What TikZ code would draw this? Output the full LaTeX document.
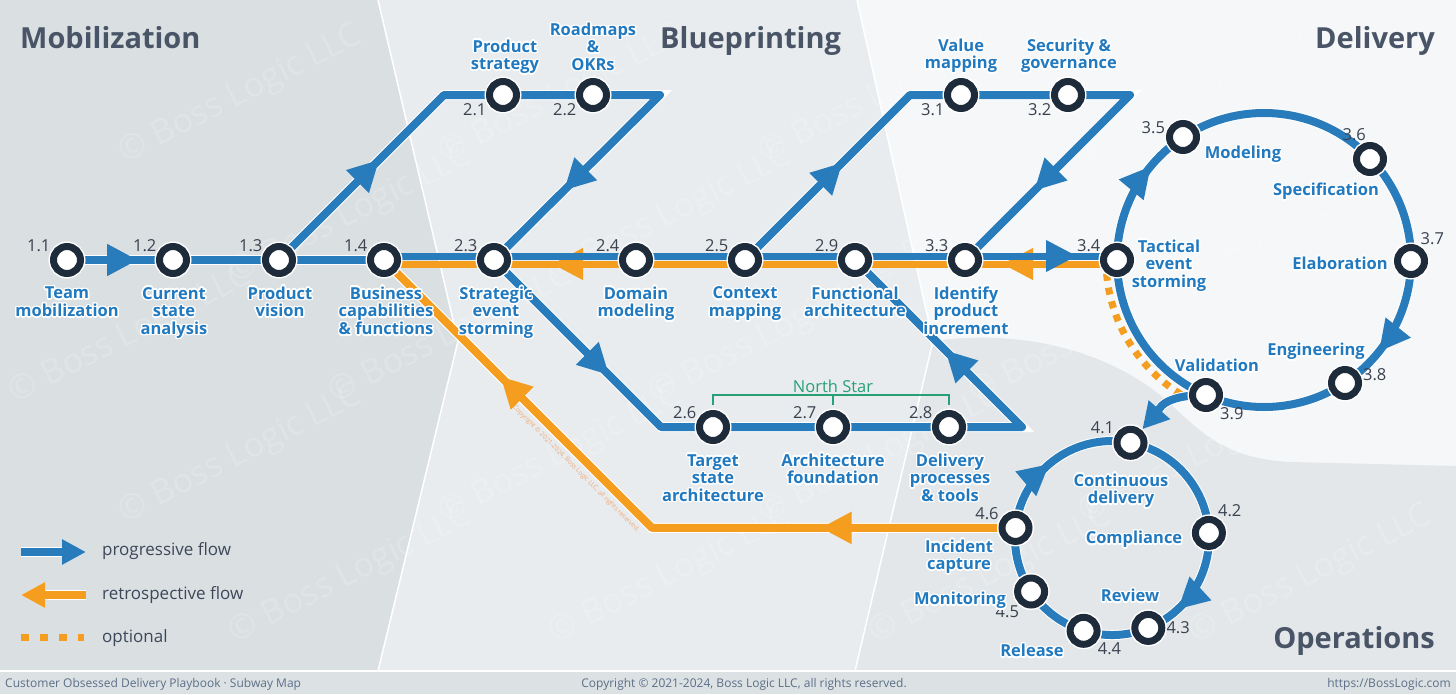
\documentclass[tikz,border=0pt]{standalone}
\usepackage{fontspec}
\setmainfont{Open Sans}
\usepackage[copies]{contour}
\contourlength{1.4pt}
\usetikzlibrary{arrows.meta, decorations.markings}

\definecolor{flowblue}{RGB}{41,124,188}
\definecolor{flowamber}{RGB}{244,157,30}
\definecolor{stnavy}{RGB}{30,43,59}
\definecolor{namblue}{RGB}{33,121,191}
\definecolor{numgray}{RGB}{58,66,80}
\definecolor{titlegray}{RGB}{73,85,103}
\definecolor{legendgray}{RGB}{60,72,90}
\definecolor{mobbg}{RGB}{218,223,226}
\definecolor{bluebg}{RGB}{232,236,238}
\definecolor{delbg}{RGB}{245,247,249}
\definecolor{opsbg}{RGB}{227,231,233}
\definecolor{footbg}{RGB}{220,225,228}
\definecolor{foottext}{RGB}{92,111,135}
\definecolor{stargreen}{RGB}{40,160,118}
\definecolor{copyamber}{RGB}{240,168,118}

% white halo round the station names
\newcommand\halo[1]{\contour{white}{\begin{tabular}{@{}c@{}}#1\end{tabular}}}

\tikzset{
  progline/.style={draw=flowblue, line width=8pt, line cap=round, line join=round,
    preaction={draw=white, line width=10pt}},
  retroline/.style={draw=flowamber, line width=8pt, line cap=round, line join=round,
    preaction={draw=white, line width=10pt}},
  progtrack/.style={draw=flowblue, line width=7pt},
  retrotrack/.style={draw=flowamber, line width=7pt},
  optline/.style={draw=flowamber, line width=7pt, dash pattern=on 7pt off 7pt},
  flowarrow/.style={postaction={decorate, decoration={markings,
      mark=at position #1 with {\arrow{Triangle[length=31pt, width=30pt]}}}}},
  station/.style={circle, draw=stnavy, fill=white, line width=7pt, minimum size=27pt,
    inner sep=0pt, label distance=1pt, preaction={draw=white, line width=10pt}},
  num/.style={font=\fontsize{16.5}{18}\selectfont, text=numgray, inner sep=1pt},
  stname/.style={font=\fontsize{16.5}{17.5}\selectfont\bfseries, text=namblue, inner sep=0pt,
    yshift=-3pt},
  zonetitle/.style={font=\fontsize{29}{32}\selectfont\bfseries, text=titlegray, inner sep=0pt},
  legendtext/.style={font=\fontsize{17}{20}\selectfont, text=legendgray, inner sep=0pt},
  foot/.style={font=\fontsize{12}{14}\selectfont, text=foottext, inner sep=0pt},
  watermark/.style={font=\fontsize{34}{36}\selectfont, text=white, opacity=0.18, rotate=27},
  northline/.style={draw=stargreen, line width=1.3pt},
  startext/.style={font=\fontsize{16.5}{18}\selectfont, text=stargreen, inner sep=0pt},
}

% id/number/x/y/angle of the number
\newcommand\stationlist{11/1.1/67/260/155, 12/1.2/173/260/155, 13/1.3/279/260/155,
  14/1.4/384/260/155, 21/2.1/503/95/205, 22/2.2/593/95/205, 23/2.3/494/260/155,
  24/2.4/636/260/155, 25/2.5/745/260/155, 26/2.6/713/427/155, 27/2.7/833/427/155,
  28/2.8/949/427/155, 29/2.9/855/260/155, 31/3.1/961/95/205, 32/3.2/1068/95/205,
  33/3.3/965/260/155, 34/3.4/1117/260/155, 35/3.5/1183/137/172, 36/3.6/1370/159/100,
  37/3.7/1411/261/60, 38/3.8/1345/383/5, 39/3.9/1206/395/320,
  41/4.1/1130.5/442.8/153, 42/4.2/1208.9/532.9/62, 43/4.3/1148.3/627.9/0,
  44/4.4/1083.6/630.8/320, 45/4.5/1031.1/591.5/230, 46/4.6/1015.5/527.9/157}

\begin{document}
\begin{tikzpicture}[x=1pt, y=-1pt]
\useasboundingbox (0,0) rectangle (1456,694);

% zones
\fill[bluebg] (0,0) rectangle (1456,671);
\fill[mobbg] (0,0) -- (378,0) -- (458,341) -- (378,671) -- (0,671) -- cycle;
\fill[delbg] (857,0) -- (933,341) -- (855,671) -- (1456,671) -- (1456,0) -- cycle;
\fill[opsbg] (933,341) .. controls (1030,328) and (1110,355) .. (1160,395)
  .. controls (1200,430) and (1220,458) .. (1290,462) -- (1456,466)
  -- (1456,671) -- (855,671) -- cycle;
\draw[white, line width=1.5pt] (378,0) -- (458,341) -- (378,671);
\draw[white, line width=1.5pt] (857,0) -- (933,341) -- (855,671);
\fill[footbg] (0,671) rectangle (1456,694);
\draw[white, line width=1.5pt] (0,671) -- (1456,671);

\foreach \wy [count=\r] in {95,215,335,455,575}
  \foreach \k in {0,...,3}
    \node[watermark] (wm-\r-\k) at ({131+mod(\r,3)*110+\k*320},\wy) {© Boss Logic LLC};

% stations and corners
\foreach \id/\num/\x/\y/\ang in \stationlist
  \coordinate (p\id) at (\x,\y);
\coordinate (tl1) at (444,95);
\coordinate (tl2) at (660,95);
\coordinate (tr1) at (910,95);
\coordinate (tr2) at (1130,95);
\coordinate (bl) at (661,427);
\coordinate (br) at (1022,427);
\coordinate (ob) at (652,527.9);
\coordinate (dc) at (1264,260);
\coordinate (oc) at (1112,538);

% retrospective flow
\draw[retroline, flowarrow=195pt, flowarrow=578pt] (p46) -- (ob) -- (p14);
\draw[retrotrack, flowarrow=115pt, flowarrow=565pt] ([yshift=-4pt]p34) -- ([yshift=-4pt]p14);
\draw[optline] ([shift={(175:158)}]dc) arc[start angle=175, end angle=121, radius=158];

% progressive flow
\draw[progline, flowarrow=71pt] (p11) -- (p14);
\draw[progline, flowarrow=142pt, flowarrow=585pt] (p13) -- (tl1) -- (tl2) -- (p23);
\draw[progline, flowarrow=138pt, flowarrow=589pt] (p25) -- (tr1) -- (tr2) -- (p33);
\draw[progline, flowarrow=163pt, flowarrow=706pt] (p23) -- (bl) -- (br) -- (p29);
\draw[progtrack, flowarrow=693pt] ([yshift=4pt]p14) -- ([yshift=4pt]p34);
\draw[progline, flowarrow=102pt, flowarrow=561pt] (p34) arc[start angle=180, end angle=540, radius=147];
\draw[progline, flowarrow=214pt, flowarrow=523pt] (p41) arc[start angle=281, end angle=641, radius=97];
\draw[progline, -{Triangle[length=26pt, width=27pt]}, shorten >=18pt]
  (p39) .. controls +(-45,0) and +(28,-32) .. (p41);

% north star
\draw[northline] ([yshift=22pt]p26) |- ([yshift=32pt]p28) -- ([yshift=22pt]p28);
\draw[northline] ([yshift=22pt]p27) -- ([yshift=32pt]p27);
\node[startext] (nstar) at (833,386) {North Star};

\foreach \id/\num/\x/\y/\ang in \stationlist
  \node[station, label={[num]\ang:\num}] (s\id) at (p\id) {};

\foreach \id/\x/\y/\txt in {11/67/302/{Team\\mobilization},
  12/174/311/{Current\\state\\analysis}, 13/280/302/{Product\\vision},
  14/386/311/{Business\\capabilities\\\& functions}, 23/496/311/{Strategic\\event\\storming},
  24/636/302/{Domain\\modeling}, 25/745/302/{Context\\mapping},
  29/855/302/{Functional\\architecture}, 33/966/311/{Identify\\product\\increment},
  21/505/55/{Product\\strategy}, 22/593/47/{Roadmaps\\\&\\OKRs},
  31/961/54/{Value\\mapping}, 32/1069/54/{Security \&\\governance},
  26/713/478/{Target\\state\\architecture}, 27/833/469/{Architecture\\foundation},
  28/950/478/{Delivery\\processes\\\& tools}, 34/1169/264/{Tactical\\event\\storming},
  35/1243/153/{Modeling}, 36/1326/190/{Specification}, 37/1340/264/{Elaboration},
  38/1316/350/{Engineering}, 39/1217/366/{Validation},
  41/1121/489/{Continuous\\delivery}, 42/1134/538/{Compliance}, 43/1130/596/{Review},
  44/1032/651/{Release}, 45/960/599/{Monitoring}, 46/959/555/{Incident\\capture}}
  \node[stname] (n\id) at (\x,\y) {\halo{\txt}};

% zone titles
\node[zonetitle, anchor=base west] (tmob) at (20,48) {Mobilization};
\node[zonetitle, anchor=base west] (tblue) at (660,48) {Blueprinting};
\node[zonetitle, anchor=base east] (tdel) at (1435,48) {Delivery};
\node[zonetitle, anchor=base east] (tops) at (1435,648) {Operations};

% legend
\coordinate (lgb1) at (21,552);
\coordinate (lgb2) at (86,552);
\coordinate (lgo1) at (86,595);
\coordinate (lgo2) at (21,595);
\coordinate (lgd1) at (21,637);
\coordinate (lgd2) at (84,637);
\draw[progline, line cap=butt, -{Triangle[length=24pt, width=24pt]}] (lgb1) -- (lgb2);
\draw[retroline, line cap=butt, -{Triangle[length=24pt, width=24pt]}] (lgo1) -- (lgo2);
\draw[optline, dash pattern=on 8pt off 11pt] (lgd1) -- (lgd2);
\node[legendtext, anchor=west] (lgt1) at (102,551) {progressive flow};
\node[legendtext, anchor=west] (lgt2) at (102,595) {retrospective flow};
\node[legendtext, anchor=west] (lgt3) at (102,638) {optional};

% footer
\node[foot, anchor=west] (fl) at (5,684) {Customer Obsessed Delivery Playbook · Subway Map};
\node[foot] (fc) at (744,684) {Copyright © 2021-2024, Boss Logic LLC, all rights reserved.};
\node[foot, anchor=east] (fr) at (1451,684) {https://BossLogic.com};
\node[font=\fontsize{6.5}{8}\selectfont, text=copyamber, rotate=-45, inner sep=0pt] (rcopy)
  at (576,469) {Copyright © 2021-2024, Boss Logic LLC, all rights reserved.};
\end{tikzpicture}
\end{document}
